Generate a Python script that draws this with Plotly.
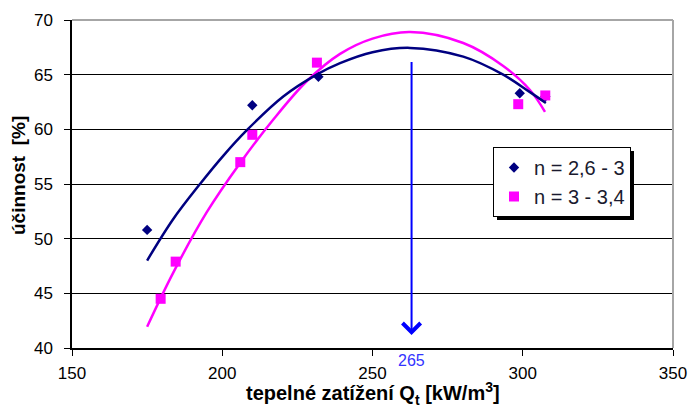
import plotly.graph_objects as go

# data
x_blue = [175, 210, 232, 299, 307.5]
y_blue = [50.8, 62.2, 64.8, 63.3, 63.0]
x_pink = [179.5, 184.5, 206, 210, 231.5, 298.5, 307.5]
y_pink = [44.5, 47.9, 57.0, 59.5, 66.1, 62.3, 63.1]
name_blue = "n = 2,6 - 3"
name_pink = "n = 3 - 3,4"

# polynomial trendlines
trend_blue_x = [175, 183.7, 192.6, 200.4, 208.1, 220.3, 231.4, 239.2, 250, 262.5, 280.2, 293.5, 302.4, 307.7]
trend_blue_y = [48.0, 51.8, 55.0, 57.6, 59.9, 63.0, 65.0, 66.05, 67.05, 67.45, 66.65, 65.0, 63.4, 62.4]
trend_pink_x = [175, 183.7, 194.8, 205.9, 217.0, 228.1, 239.2, 250, 262.5, 280.2, 293.5, 302.4, 307.4]
trend_pink_y = [41.95, 46.9, 52.4, 56.9, 60.9, 64.4, 66.9, 68.3, 68.9, 67.9, 65.8, 63.6, 61.6]

x_ticks = [150, 200, 250, 300, 350]
y_ticks = [40, 45, 50, 55, 60, 65, 70]
arrow_x = 263
arrow_y_top = 66.3
arrow_y_tip = 41.2
arrow_label = "265"
x_title = "<b>tepelné zatížení Q<sub>t</sub> [kW/m<sup>3</sup>]</b>"
y_title = "<b>účinnost  [%]</b>"

NAVY = "#000080"
MAGENTA = "#FF00FF"
FONT = "Liberation Sans, Arial, sans-serif"

fig = go.Figure()
fig.add_trace(go.Scatter(x=x_blue, y=y_blue, mode="markers", name=name_blue,
                         marker=dict(symbol="diamond", size=8, color=NAVY)))
fig.add_trace(go.Scatter(x=x_pink, y=y_pink, mode="markers", name=name_pink,
                         marker=dict(symbol="square", size=10, color=MAGENTA)))
fig.add_trace(go.Scatter(x=trend_pink_x, y=trend_pink_y, mode="lines", showlegend=False,
                         line=dict(color=MAGENTA, width=2.5, shape="spline"), hoverinfo="skip"))
fig.add_trace(go.Scatter(x=trend_blue_x, y=trend_blue_y, mode="lines", showlegend=False,
                         line=dict(color=NAVY, width=2.5, shape="spline"), hoverinfo="skip"))

fig.add_annotation(x=arrow_x, y=arrow_y_tip, ax=arrow_x, ay=arrow_y_top,
                   xref="x", yref="y", axref="x", ayref="y", text="",
                   showarrow=True, arrowhead=4, arrowsize=1.75, arrowwidth=2,
                   arrowcolor="#0000FF", standoff=0)
fig.add_annotation(x=arrow_x, y=-0.005, xref="x", yref="paper", text=arrow_label,
                   showarrow=False, yanchor="top",
                   font=dict(family=FONT, size=16, color="#3333FF"))

# axis titles
fig.add_annotation(x=0.5, y=(348 - 393) / 328, xref="paper", yref="paper",
                   text=x_title, showarrow=False, xanchor="center", yanchor="middle",
                   font=dict(family=FONT, size=20, color="black"))
fig.add_annotation(x=(18 - 72) / 601, y=(348 - 176) / 328, xref="paper", yref="paper",
                   text=y_title, showarrow=False, textangle=-90,
                   xanchor="center", yanchor="middle",
                   font=dict(family=FONT, size=19, color="black"))

# grey frame on top and right
fig.add_shape(type="line", xref="paper", yref="paper", x0=0, x1=1, y0=1, y1=1,
              line=dict(color="#A6A6A6", width=2), layer="above")
fig.add_shape(type="line", xref="paper", yref="paper", x0=1, x1=1, y0=0, y1=1,
              line=dict(color="#A6A6A6", width=2), layer="above")
# legend shadow
fig.add_shape(type="rect", xref="paper", yref="paper",
              x0=(497 - 72) / 601, x1=(634 - 72) / 601,
              y0=(348 - 220) / 328, y1=(348 - 151) / 328,
              fillcolor="black", line=dict(width=0), layer="above")

fig.update_layout(
    width=688, height=408,
    margin=dict(l=72, r=15, t=20, b=60),
    paper_bgcolor="white", plot_bgcolor="white",
    font=dict(family=FONT, size=15, color="black"),
    showlegend=True,
    legend=dict(x=(493 - 72) / 601, y=(348 - 147) / 328, xanchor="left", yanchor="top",
                bgcolor="white", bordercolor="black", borderwidth=1,
                font=dict(family=FONT, size=20, color="#1a1a2e"),
                tracegroupgap=0, itemwidth=30),
    xaxis=dict(range=[150, 350], tickvals=x_ticks, ticks="outside", ticklen=6,
               tickcolor="black", showline=True, linecolor="black", linewidth=1.5,
               showgrid=False, zeroline=False, ticklabelstandoff=3, automargin=False,
               tickfont=dict(family=FONT, size=17, color="black")),
    yaxis=dict(range=[40, 70], tickvals=y_ticks, ticks="outside", ticklen=6,
               tickcolor="black", showline=True, linecolor="black", linewidth=1.5,
               showgrid=True, gridcolor="black", gridwidth=1.2, zeroline=False,
               ticklabelstandoff=8, automargin=False,
               tickfont=dict(family=FONT, size=17, color="black")),
)

fig.write_html("out.html", config={"displayModeBar": False},
               post_script="document.body.style.margin='0';")
